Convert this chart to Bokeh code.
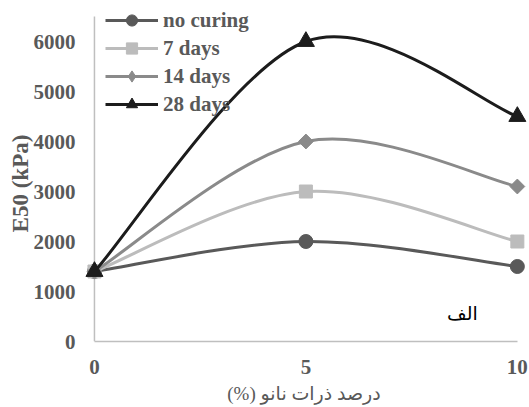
import numpy as np
from bokeh.plotting import figure
from bokeh.models import (Range1d, FixedTicker, Legend, LegendItem, Label,
                          ColumnDataSource, Arrow)
from bokeh.embed import file_html
from bokeh.resources import INLINE

# ---- data ----
nano_pct = [0, 5, 10]
series_names = ["no curing", "7 days", "14 days", "28 days"]
no_curing = [1400, 2000, 1500]
days_7 = [1400, 3000, 2000]
days_14 = [1400, 4000, 3100]
days_28 = [1400, 6000, 4500]
x_ticks = [0, 5, 10]
y_ticks = [0, 1000, 2000, 3000, 4000, 5000, 6000]
y_axis_max = 6500
x_label = "درصد ذرات نانو (%)"
y_label = "E50 (kPa)"
panel_tag = "الف"

series_values = [no_curing, days_7, days_14, days_28]
colors = ["#595959", "#bcbcbc", "#8a8a8a", "#1c1c1c"]
markers = ["circle", "square", "square", "triangle"]
angles = [0, 0, np.pi / 4, 0]
sizes = [14, 13, 10.5, 17]
legend_markers = ["circle", "square", "diamond", "triangle"]

SERIF = "Liberation Serif, DejaVu Sans"
AXIS_GREY = "#bfbfbf"
TEXT_GREY = "#595959"


def smooth_segments(xs, ys, t=1.0 / 6.0):
    """Cubic Bezier control points (Catmull-Rom style, as in spreadsheet smoothed lines)."""
    xs = np.asarray(xs, float)
    ys = np.asarray(ys, float)
    n = len(xs)
    xp = np.concatenate([[xs[0]], xs, [xs[-1]]])
    yp = np.concatenate([[ys[0]], ys, [ys[-1]]])
    return dict(
        x0=xs[:-1], y0=ys[:-1], x1=xs[1:], y1=ys[1:],
        cx0=xs[:-1] + (xp[2:n + 1] - xp[0:n - 1]) * t,
        cy0=ys[:-1] + (yp[2:n + 1] - yp[0:n - 1]) * t,
        cx1=xs[1:] - (xp[3:n + 2] - xp[1:n]) * t,
        cy1=ys[1:] - (yp[3:n + 2] - yp[1:n]) * t,
    )


p = figure(width=529, height=407, output_backend="svg", toolbar_location=None,
           x_range=Range1d(-0.33, 10.24), y_range=Range1d(0, 6780),
           min_border_left=80, min_border_right=2, min_border_top=2, min_border_bottom=66)
p.grid.visible = False
p.outline_line_color = None
p.background_fill_color = "white"
p.border_fill_color = "white"

# vertical value-axis line at x = 0, from 0 up to the axis maximum
p.add_layout(Arrow(end=None, x_start=x_ticks[0], y_start=0, x_end=x_ticks[0], y_end=y_axis_max,
                   line_color=AXIS_GREY, line_width=1.5, level="underlay"))

items = []
for name, vals, col, mk, ang, sz, lmk in zip(series_names, series_values, colors, markers,
                                            angles, sizes, legend_markers):
    seg = ColumnDataSource(smooth_segments(nano_pct, vals))
    r_line = p.bezier(x0="x0", y0="y0", x1="x1", y1="y1", cx0="cx0", cy0="cy0",
                      cx1="cx1", cy1="cy1", source=seg, line_color=col, line_width=3)
    r_pts = p.scatter(nano_pct, vals, marker=mk, angle=ang, size=sz,
                      fill_color=col, line_color=col)
    rends = [r_line, r_pts]
    if lmk != mk:
        # legend swatch shape (hidden under the plotted markers)
        rends = [r_line, p.scatter(nano_pct, vals, marker=lmk, size=1,
                                   fill_color=col, line_color=col)]
    items.append(LegendItem(label=name, renderers=rends))

legend = Legend(items=items, location=(25, 223), background_fill_alpha=0,
                border_line_color=None, padding=0, margin=0, spacing=0,
                glyph_width=53, glyph_height=28, label_height=20, label_standoff=5,
                label_text_font=SERIF, label_text_font_style="bold",
                label_text_font_size="21px", label_text_color=TEXT_GREY)
p.add_layout(legend)

for ax in (p.xaxis[0], p.yaxis[0]):
    ax.major_tick_line_color = None
    ax.minor_tick_line_color = None
    ax.major_tick_out = 0
    ax.major_tick_in = 0
    ax.major_label_text_font = SERIF
    ax.major_label_text_font_style = "bold"
    ax.major_label_text_font_size = "21px"
    ax.major_label_text_color = TEXT_GREY
    ax.axis_label_text_color = TEXT_GREY
    ax.axis_label_text_font = SERIF

p.xaxis.axis_line_color = AXIS_GREY
p.xaxis.axis_line_width = 1.5
p.xaxis.ticker = FixedTicker(ticks=x_ticks)
p.xaxis.bounds = (x_ticks[0], x_ticks[-1])
p.xaxis.major_label_standoff = 18
p.xaxis.axis_label = x_label + "\u200f"
p.xaxis.axis_label_text_font_style = "normal"
p.xaxis.axis_label_text_font_size = "19px"
p.xaxis.axis_label_standoff = 6

p.yaxis.axis_line_color = None
p.yaxis.ticker = FixedTicker(ticks=y_ticks)
p.yaxis.major_label_standoff = 5
p.yaxis.axis_label = y_label + "\u00a0\u00a0\u00a0\u00a0"
p.yaxis.axis_label_text_font_style = "bold"
p.yaxis.axis_label_text_font_size = "23px"
p.yaxis.axis_label_standoff = -2

p.add_layout(Label(x=8.7, y=560, text=panel_tag, text_font=SERIF, text_font_size="19px",
                   text_color="black", text_align="center", text_baseline="middle"))

open("out.html", "w").write(file_html(p, INLINE))
